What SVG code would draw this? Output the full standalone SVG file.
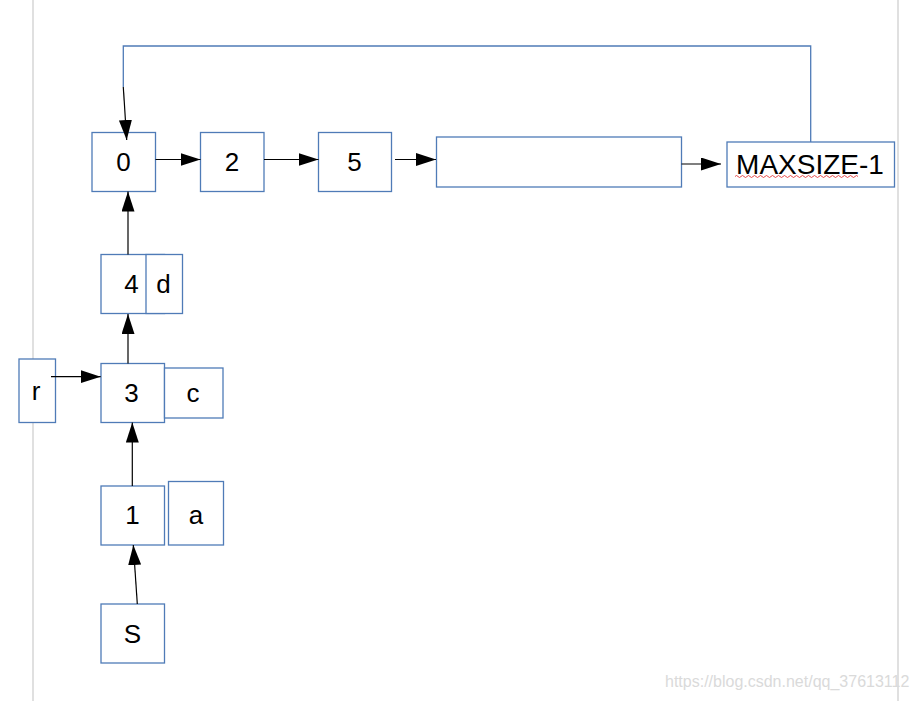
<svg xmlns="http://www.w3.org/2000/svg" width="917" height="701" viewBox="0 0 917 701">
<defs>
<style>
.box{fill:#fff;stroke:#4f7bb7;stroke-width:1.3}
.t{font-family:"Liberation Sans",Arial,sans-serif;font-size:26px;fill:#000;text-anchor:middle}
.c{stroke:#000;stroke-width:1.2;fill:none;marker-end:url(#ah)}
.b{stroke:#4f7bb7;stroke-width:1.3;fill:none}
.page{stroke:#d6d6d6;stroke-width:1.5}
</style>
<marker id="ah" markerUnits="userSpaceOnUse" markerWidth="20" markerHeight="14" refX="20" refY="6.5" orient="auto">
<path d="M0,0 L20,6.5 L0,13 z" fill="#000"/>
</marker>
</defs>
<rect width="917" height="701" fill="#fff"/>
<line class="page" x1="33" y1="0" x2="33" y2="701"/>
<line class="page" x1="898" y1="0" x2="898" y2="701"/>

<g id="n0"><rect class="box" x="92" y="132.5" width="63.5" height="59"/><text class="t" x="123.5" y="170.5">0</text></g>
<g id="n2"><rect class="box" x="200.5" y="132.5" width="63.5" height="59"/><text class="t" x="232" y="170.5">2</text></g>
<g id="n5"><rect class="box" x="318.5" y="132.5" width="73" height="59"/><text class="t" x="354.5" y="170.5">5</text></g>
<g id="nempty"><rect class="box" x="436.5" y="137" width="245" height="50"/></g>
<g id="nmax"><rect class="box" x="727" y="142" width="167.5" height="45"/><text class="t" x="810" y="174" style="font-size:28px">MAXSIZE-1</text>
<path d="M735,176.5 q1.5,-2 3,0 t3,0 t3,0 t3,0 t3,0 t3,0 t3,0 t3,0 t3,0 t3,0 t3,0 t3,0 t3,0 t3,0 t3,0 t3,0 t3,0 t3,0 t3,0 t3,0 t3,0 t3,0 t3,0 t3,0 t3,0 t3,0 t3,0 t3,0 t3,0 t3,0 t3,0 t3,0 t3,0 t3,0 t3,0 t3,0 t3,0 t3,0 t3,0 t3,0 t3,0" fill="none" stroke="#e02020" stroke-width="0.8"/></g>
<g id="n4"><rect class="box" x="101" y="254.5" width="63.5" height="59"/><text class="t" x="131.5" y="293">4</text></g>
<g id="nd"><rect class="box" x="146" y="254.5" width="36.5" height="59"/><text class="t" x="163.5" y="293">d</text></g>
<g id="n3"><rect class="box" x="101" y="363.5" width="63.5" height="59"/><text class="t" x="131.5" y="401.5">3</text></g>
<g id="nc"><rect class="box" x="164.5" y="368" width="58.5" height="50"/><text class="t" x="193" y="401.5">c</text></g>
<g id="nr"><rect class="box" x="19" y="359" width="36.5" height="63.5"/><text class="t" x="36" y="400">r</text></g>
<g id="n1"><rect class="box" x="101" y="486" width="63.5" height="59"/><text class="t" x="132.5" y="524">1</text></g>
<g id="na"><rect class="box" x="168.5" y="481.5" width="55" height="63.5"/><text class="t" x="196" y="524">a</text></g>
<g id="nS"><rect class="box" x="101" y="604" width="63.5" height="59"/><text class="t" x="132.5" y="643">S</text></g>

<g id="connectors">
<path class="b" d="M810.7,142 V46 H123.3 V87"/>
<line class="c" x1="123.3" y1="87" x2="126.7" y2="140"/>
<line class="c" x1="155.5" y1="159.5" x2="200.5" y2="159.5"/>
<line class="c" x1="264" y1="159.5" x2="318.5" y2="159.5"/>
<line class="c" x1="395" y1="159.5" x2="436" y2="159.5"/>
<line class="c" x1="681.5" y1="164" x2="721" y2="164"/>
<line class="c" x1="128" y1="254.5" x2="128" y2="191.5"/>
<line class="c" x1="128" y1="363.5" x2="128" y2="314"/>
<line class="c" x1="51" y1="376.7" x2="100.7" y2="376.7"/>
<line class="c" x1="132.3" y1="486" x2="132.3" y2="422.5"/>
<line class="c" x1="137.3" y1="604" x2="133.3" y2="545"/>
</g>
<text x="665" y="687" style="font-family:'Liberation Sans',Arial,sans-serif;font-size:16px;fill:#dadada">https://blog.csdn.net/qq_37613112</text>
</svg>
